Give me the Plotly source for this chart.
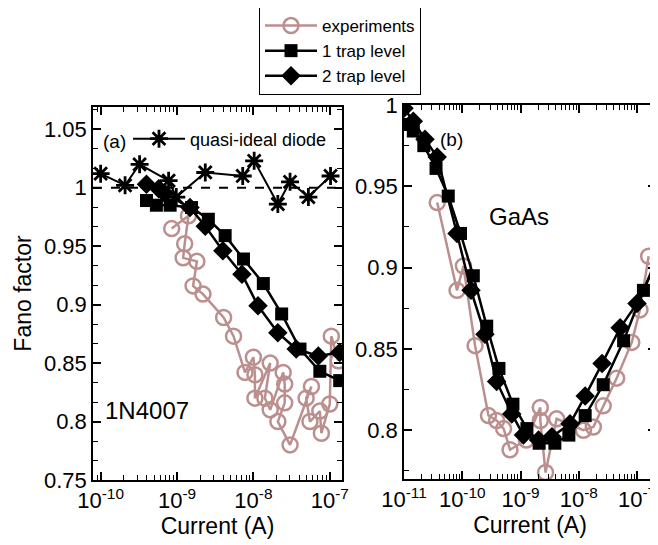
import plotly.graph_objects as go

# ---------------- data (log10 of current in A, Fano factor) ----------------
# Panel (a) 1N4007
a_exp_logI = [-9.07, -8.85, -8.90, -8.92, -8.74, -8.79, -8.66, -8.39, -8.26, -8.11, -8.00, -7.98,
              -7.98, -7.78, -7.85, -7.78, -7.61, -7.59, -7.59, -7.68, -7.52, -7.24, -7.31, -7.26,
              -7.13, -7.11, -7.00, -6.98, -6.89]
a_exp_F = [0.965, 0.976, 0.952, 0.940, 0.937, 0.916, 0.909, 0.889, 0.873, 0.842, 0.855, 0.840,
           0.820, 0.850, 0.820, 0.810, 0.842, 0.832, 0.816, 0.800, 0.780, 0.830, 0.820, 0.800,
           0.809, 0.790, 0.815, 0.873, 0.852]

a_trap1_logI = [-9.40, -9.27, -9.09, -8.81, -8.59, -8.37, -8.13, -7.87, -7.63, -7.39, -7.13, -6.87]
a_trap1_F = [0.989, 0.985, 0.985, 0.983, 0.973, 0.959, 0.939, 0.918, 0.892, 0.862, 0.843, 0.835]

a_trap2_logI = [-9.40, -9.24, -9.16, -8.83, -8.63, -8.40, -8.15, -7.94, -7.68, -7.44, -7.15, -6.87]
a_trap2_F = [1.003, 0.999, 0.995, 0.983, 0.967, 0.946, 0.926, 0.899, 0.876, 0.862, 0.856, 0.859]

a_diode_logI = [-10.0, -9.68, -9.49, -9.11, -9.01, -8.63, -8.14, -7.99, -7.68, -7.52, -7.28, -6.99]
a_diode_F = [1.012, 1.002, 1.020, 1.006, 0.992, 1.013, 1.010, 1.023, 0.986, 1.005, 0.992, 1.010]

a_ref_F = 1.0  # dashed reference line

# Panel (b) GaAs
b_exp_logI = [-10.43, -10.09, -9.98, -9.78, -9.55, -9.41, -9.29, -9.18, -8.90, -8.66, -8.66,
              -8.57, -8.38, -7.92, -7.75, -7.58, -7.35, -7.09, -6.95, -6.80]
b_exp_F = [0.940, 0.886, 0.901, 0.852, 0.809, 0.806, 0.801, 0.788, 0.794, 0.814, 0.806,
           0.774, 0.807, 0.800, 0.802, 0.815, 0.832, 0.854, 0.874, 0.907]

b_trap1_logI = [-11.0, -10.84, -10.66, -10.45, -10.24, -10.03, -9.81, -9.58, -9.37, -9.13, -8.89,
                -8.68, -8.41, -8.17, -7.89, -7.58, -7.23, -6.89, -6.55]
b_trap1_F = [0.988, 0.984, 0.975, 0.961, 0.944, 0.921, 0.895, 0.864, 0.838, 0.816, 0.801,
             0.792, 0.792, 0.797, 0.809, 0.828, 0.855, 0.886, 0.915]

b_trap2_logI = [-11.0, -10.84, -10.64, -10.43, -10.09, -9.85, -9.61, -9.41, -9.15, -8.95, -8.69,
                -8.46, -8.15, -7.89, -7.60, -7.29, -7.00, -6.60]
b_trap2_F = [0.998, 0.990, 0.979, 0.968, 0.921, 0.886, 0.859, 0.830, 0.810, 0.797, 0.794,
             0.796, 0.804, 0.821, 0.841, 0.863, 0.878, 0.908]

# axis ticks
a_xticks = [-10, -9, -8, -7]
b_xticks = [-11, -10, -9, -8, -7]
a_yticks = [0.75, 0.8, 0.85, 0.9, 0.95, 1.0, 1.05]
a_yticklabels = ["0.75", "0.8", "0.85", "0.9", "0.95", "1", "1.05"]
b_yticks = [0.8, 0.85, 0.9, 0.95, 1.0]
b_yticklabels = ["0.8", "0.85", "0.9", "0.95", "1"]

# ---------------- styling ----------------
FONT = "Liberation Sans, Arial, Helvetica, sans-serif"
BROWN = "#bc8f8f"
OFF = 8                      # default page body margin
W, H = 658 - OFF, 545 - OFF  # figure fills the rest of the window


def pw(x):
    return (x - OFF) / W


def ph(y):
    return 1 - (y - OFF) / H


def pow10(vals):
    return [10.0 ** v for v in vals]


fig = go.Figure()

exp_style = dict(mode="lines+markers", line=dict(color=BROWN, width=2.5),
                 marker=dict(symbol="circle-open", size=15, color=BROWN, line=dict(width=2.5, color=BROWN)))
t1_style = dict(mode="lines+markers", line=dict(color="black", width=2.5),
                marker=dict(symbol="square", size=13, color="black"))
t2_style = dict(mode="lines+markers", line=dict(color="black", width=2.5),
                marker=dict(symbol="diamond", size=15, color="black"))

# panel (a)
fig.add_trace(go.Scatter(x=pow10(a_diode_logI), y=a_diode_F, xaxis="x", yaxis="y",
                         name="quasi-ideal diode", legend="legend2", mode="lines+markers",
                         line=dict(color="black", width=2),
                         marker=dict(symbol="asterisk-open", size=15, color="black",
                                     line=dict(width=2.8, color="black"))))
fig.add_trace(go.Scatter(x=pow10(a_exp_logI), y=a_exp_F, xaxis="x", yaxis="y",
                         name="experiments", legendgroup="e", **exp_style))
fig.add_trace(go.Scatter(x=pow10(a_trap1_logI), y=a_trap1_F, xaxis="x", yaxis="y",
                         name="1 trap level", legendgroup="t1", **t1_style))
fig.add_trace(go.Scatter(x=pow10(a_trap2_logI), y=a_trap2_F, xaxis="x", yaxis="y",
                         name="2 trap level", legendgroup="t2", **t2_style))

# panel (b)
fig.add_trace(go.Scatter(x=pow10(b_exp_logI), y=b_exp_F, xaxis="x2", yaxis="y2",
                         name="experiments", legendgroup="e", showlegend=False, **exp_style))
fig.add_trace(go.Scatter(x=pow10(b_trap1_logI), y=b_trap1_F, xaxis="x2", yaxis="y2",
                         name="1 trap level", legendgroup="t1", showlegend=False, **t1_style))
fig.add_trace(go.Scatter(x=pow10(b_trap2_logI), y=b_trap2_F, xaxis="x2", yaxis="y2",
                         name="2 trap level", legendgroup="t2", showlegend=False, **t2_style))

fig.add_shape(type="line", xref="x domain", yref="y", x0=0, x1=1, y0=a_ref_F, y1=a_ref_F,
              line=dict(color="black", width=2, dash="dash"), layer="below")

tickfont = dict(family=FONT, size=22, color="black")
titlefont = dict(family=FONT, size=23, color="black")


def xaxis(domain, rng, ticks, anchor):
    return dict(domain=domain, type="log", range=rng, anchor=anchor, automargin=False,
                tickmode="array", tickvals=pow10(ticks),
                ticktext=["10<sup>%d</sup>" % t for t in ticks],
                ticks="inside", ticklen=8, tickwidth=1.5, tickcolor="black",
                showline=True, linecolor="black", linewidth=1.5, mirror="ticks",
                showgrid=False, zeroline=False, tickfont=tickfont,
                minor=dict(dtick="D1", ticks="inside", ticklen=5, tickwidth=1.2,
                           tickcolor="black", showgrid=False),
                title=dict(text="Current (A)", font=titlefont, standoff=0))


def yaxis(domain, rng, ticks, labels, anchor, minor_dt, title=None):
    d = dict(domain=domain, range=rng, anchor=anchor, automargin=False,
             tickmode="array", tickvals=ticks, ticktext=labels,
             ticks="inside", ticklen=8, tickwidth=1.5, tickcolor="black",
             showline=True, linecolor="black", linewidth=1.5, mirror="ticks",
             showgrid=False, zeroline=False, tickfont=tickfont,
             minor=dict(tick0=0.75, dtick=minor_dt, ticks="inside", ticklen=5, tickwidth=1.2,
                        tickcolor="black", showgrid=False))
    if title:
        d["title"] = dict(text=title, font=titlefont, standoff=6)
    return d


fig.update_layout(
    width=W, height=H,
    margin=dict(l=0, r=0, t=0, b=0, autoexpand=False),
    paper_bgcolor="white", plot_bgcolor="white",
    font=dict(family=FONT, color="black"),
    xaxis=xaxis([pw(93), pw(342)], [-10.1, -6.84], a_xticks, "y"),
    yaxis=yaxis([ph(480), ph(107)], [0.75, 1.069], a_yticks, a_yticklabels, "x",
                0.05 / 3, title="Fano factor"),
    xaxis2=xaxis([pw(404), pw(656)], [-11.0, -6.674], b_xticks, "y2"),
    yaxis2=yaxis([ph(479), ph(105)], [0.77, 1.0], b_yticks, b_yticklabels, "x2", 0.025),
    legend=dict(x=pw(259), y=ph(7), xanchor="left", yanchor="top",
                bordercolor="black", borderwidth=1, bgcolor="white",
                font=dict(family=FONT, size=17, color="black"),
                tracegroupgap=0, itemwidth=52),
    legend2=dict(x=pw(128), y=ph(139), xanchor="left", yanchor="middle",
                 bgcolor="rgba(0,0,0,0)", borderwidth=0,
                 font=dict(family=FONT, size=18, color="black"), itemwidth=52),
    showlegend=True,
    annotations=[
        dict(text="(a)", x=pw(101), y=ph(142), xref="paper", yref="paper", xanchor="left",
             yanchor="middle", showarrow=False, font=dict(family=FONT, size=19, color="black")),
        dict(text="(b)", x=pw(438), y=ph(140), xref="paper", yref="paper", xanchor="left",
             yanchor="middle", showarrow=False, font=dict(family=FONT, size=19, color="black")),
        dict(text="GaAs", x=pw(487), y=ph(216), xref="paper", yref="paper", xanchor="left",
             yanchor="middle", showarrow=False, font=dict(family=FONT, size=24, color="black")),
        dict(text="1N4007", x=pw(103), y=ph(410), xref="paper", yref="paper", xanchor="left",
             yanchor="middle", showarrow=False, font=dict(family=FONT, size=24, color="black")),
    ],
)

fig.write_html("out.html")
